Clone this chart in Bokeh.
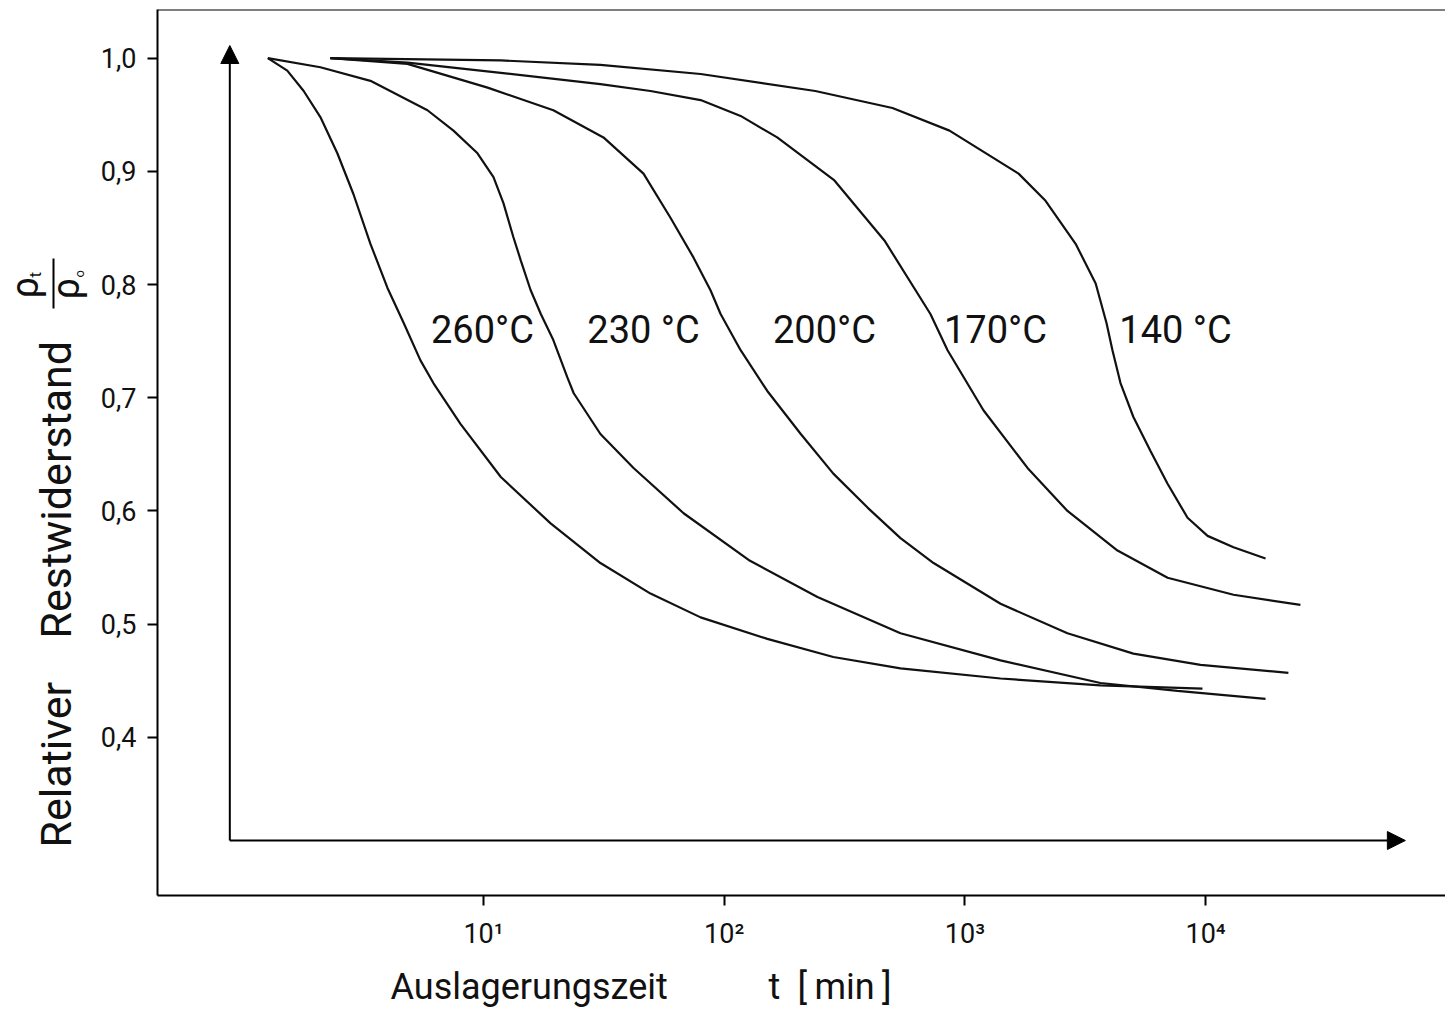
import math
from bokeh.plotting import figure
from bokeh.layouts import row, column
from bokeh.models import Range1d, FixedTicker, Arrow, NormalHead, Span
from bokeh.embed import file_html
from bokeh.resources import INLINE
from bokeh.core.properties import value

# ---------------- data ----------------
t_260 = [1.27, 1.53, 1.79, 2.10, 2.47, 2.88, 3.39, 3.99, 4.66, 5.47, 6.19, 8.02,
         11.8, 19.0, 30.6, 49.4, 79.8, 151, 284, 540, 1406, 3656, 9705]
rho_260 = [1.0, 0.989, 0.971, 0.948, 0.916, 0.880, 0.836, 0.797, 0.766, 0.733, 0.713, 0.677,
           0.630, 0.589, 0.554, 0.527, 0.506, 0.487, 0.471, 0.461, 0.452, 0.446, 0.443]

t_230 = [1.27, 2.10, 3.39, 5.85, 7.50, 9.44, 11.0, 12.1, 13.3, 14.3, 15.7, 17.3, 19.5,
         22.3, 23.7, 30.6, 42.0, 67.8, 128, 244, 540, 1406, 3656, 7640, 17740]
rho_230 = [1.0, 0.992, 0.980, 0.954, 0.936, 0.916, 0.895, 0.872, 0.842, 0.821, 0.795, 0.774, 0.751,
           0.718, 0.704, 0.668, 0.638, 0.598, 0.556, 0.524, 0.492, 0.468, 0.448, 0.441, 0.434]

t_200 = [2.31, 4.83, 10.4, 19.5, 31.5, 46.2, 59.8, 74.5, 87.7, 96.6, 117, 151, 208, 284,
         394, 540, 741, 1406, 2667, 5012, 9530, 22080]
rho_200 = [1.0, 0.995, 0.974, 0.954, 0.930, 0.898, 0.859, 0.824, 0.795, 0.774, 0.742, 0.706, 0.668, 0.633,
           0.603, 0.576, 0.554, 0.518, 0.492, 0.474, 0.464, 0.457]

t_170 = [2.31, 4.83, 11.8, 30.6, 49.4, 79.8, 117, 166, 287, 463, 719, 847, 1194, 1820, 2667,
         4305, 6950, 13060, 24770]
rho_170 = [1.0, 0.996, 0.987, 0.977, 0.971, 0.963, 0.949, 0.930, 0.892, 0.839, 0.774, 0.742, 0.689, 0.638, 0.600,
           0.565, 0.541, 0.526, 0.517]

t_140 = [2.31, 11.8, 30.6, 79.8, 239, 500, 863, 1671, 2163, 2884, 3494, 3875, 4102, 4430,
         5012, 5902, 6950, 8414, 10190, 13060, 17740]
rho_140 = [1.0, 0.998, 0.994, 0.986, 0.971, 0.956, 0.936, 0.898, 0.874, 0.836, 0.801, 0.766, 0.742, 0.713,
           0.683, 0.653, 0.624, 0.594, 0.578, 0.568, 0.558]

curve_labels = ["260°C", "230 °C", "200°C", "170°C", "140 °C"]
label_t = [9.9, 46.2, 261, 1340, 7500]
label_rho = [0.760, 0.760, 0.760, 0.760, 0.760]

y_ticks = [0.4, 0.5, 0.6, 0.7, 0.8, 0.9, 1.0]
y_tick_labels = ["0,4", "0,5", "0,6", "0,7", "0,8", "0,9", "1,0"]
x_ticks = [10, 100, 1000, 10000]
x_tick_labels = ["10\u00b9", "10\u00b2", "10\u00b3", "10\u2074"]

x_title_parts = ["Auslagerungszeit", "t", "[\u2009min\u2009]"]
y_title_parts = ["Relativer", "Restwiderstand"]

FONT = "Roboto"
INK = "#111111"

TOP, FH, BOT = 9, 886, 62   # shared vertical structure of the plot row

# ---------------- main plot ----------------
p = figure(x_axis_type="log",
           x_range=Range1d(0.4421, 99240), y_range=Range1d(0.2603, 1.0430),
           frame_width=1288, frame_height=FH,
           min_border_left=60, min_border_right=0, min_border_top=TOP, min_border_bottom=BOT,
           output_backend="svg", toolbar_location=None,
           background_fill_color="white", border_fill_color="white",
           outline_line_color=None)
p.grid.visible = False

for ax in (p.xaxis[0], p.yaxis[0]):
    ax.axis_line_width = 2
    ax.axis_line_color = "black"
    ax.major_tick_line_width = 2
    ax.major_tick_line_color = "black"
    ax.major_tick_in = 0
    ax.major_tick_out = 10
    ax.minor_tick_line_color = None
    ax.major_label_text_font = FONT
    ax.major_label_text_color = INK

p.yaxis.ticker = FixedTicker(ticks=y_ticks, minor_ticks=[])
p.yaxis.major_label_overrides = dict(zip(y_ticks, y_tick_labels))
p.yaxis.major_label_text_font_size = "27px"
p.yaxis.major_label_standoff = 11

p.xaxis.ticker = FixedTicker(ticks=x_ticks, minor_ticks=[])
p.xaxis.major_label_overrides = dict(zip(x_ticks, x_tick_labels))
p.xaxis.major_label_text_font_size = "27px"
p.xaxis.major_label_standoff = 12

# top border of the box
p.add_layout(Span(location=1.0430, dimension="width", line_color="black", line_width=2))

for tt, rr in [(t_260, rho_260), (t_230, rho_230), (t_200, rho_200), (t_170, rho_170), (t_140, rho_140)]:
    p.line(tt, rr, line_color=INK, line_width=2.2)

p.text(x=label_t, y=label_rho, text=curve_labels, text_font=value(FONT),
       text_font_size="38px", text_align="center", text_baseline="middle", text_color=INK)

# inner axis arrows
AX_T, AX_R = 0.883, 0.3089
for xe, ye in [(AX_T, 1.0112), (67600, AX_R)]:
    p.add_layout(Arrow(end=NormalHead(size=18, fill_color="black", line_color="black"),
                       x_start=AX_T, y_start=AX_R, x_end=xe, y_end=ye,
                       line_width=2, line_color="black"))

# ---------------- left strip: y title with fraction ----------------
pl = figure(frame_width=97, frame_height=FH, x_range=Range1d(0, 97), y_range=Range1d(0, FH),
            min_border_left=0, min_border_right=0, min_border_top=TOP, min_border_bottom=BOT,
            x_axis_location=None, y_axis_location=None,
            toolbar_location=None, output_backend="svg", outline_line_color=None)
pl.grid.visible = False
R90 = math.pi / 2
txt = dict(angle=R90, text_align="left", text_baseline="middle",
           text_font=value(FONT), text_color=INK)
pl.text(x=[55, 55], y=[48, 257], text=y_title_parts, text_font_size="43px", **txt)
pl.text(x=[24, 65], y=[597, 596], text=["\u03c1", "\u03c1"], text_font_size="38px", **txt)
pl.text(x=[34], y=[618], text=["t"], text_font_size="17px", **txt)
pl.text(x=[79], y=[618], text=["o"], text_font_size="13px", **txt)
pl.segment(x0=[53], y0=[587], x1=[53], y1=[637], line_width=2, line_color="black")

# ---------------- bottom strip: x title ----------------
PB_H = 1010 - (TOP + FH + BOT)
pb = figure(width=1445, height=PB_H, x_range=Range1d(0, 1445), y_range=Range1d(0, PB_H),
            min_border=0, x_axis_location=None, y_axis_location=None,
            toolbar_location=None, output_backend="svg", outline_line_color=None)
pb.grid.visible = False
pb.text(x=[390, 768, 797], y=[24, 24, 24], text=x_title_parts, text_align="left",
        text_baseline="middle", text_font=value(FONT), text_font_size="36px", text_color=INK)

layout = column(row(pl, p, spacing=0), pb, spacing=0)
open("out.html", "w").write(file_html(layout, INLINE))
